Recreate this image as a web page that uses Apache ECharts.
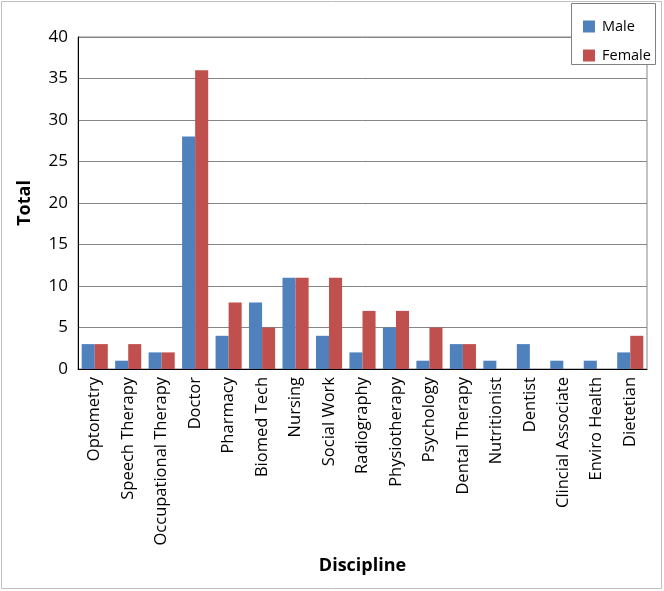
<!DOCTYPE html>
<html><head><meta charset="utf-8">
<script src="https://cdn.jsdelivr.net/npm/echarts@6/dist/echarts.min.js"></script>
<style>html,body{margin:0;padding:0;background:#fff}#c{width:664px;height:591px}</style>
</head><body><div id="c"></div>
<script>
const categories = ["Optometry","Speech Therapy","Occupational Therapy","Doctor","Pharmacy","Biomed Tech","Nursing","Social Work","Radiography","Physiotherapy","Psychology","Dental Therapy","Nutritionist","Dentist","Clincial Associate","Enviro Health","Dietetian"];
const male =   [3,1,2,28,4,8,11,4,2,5,1,3,1,3,1,1,2];
const female = [3,3,2,36,8,5,11,11,7,7,5,3,0,0,0,0,4];
const yTicks = {min:0, max:40, interval:5};

const FONT = "Open Sans";
const chart = echarts.init(document.getElementById('c'), null, {renderer:'canvas'});
chart.setOption({
  animation:false,
  textStyle:{fontFamily:FONT},
  graphic:[
    {type:'rect', shape:{x:1.5,y:1.5,width:660,height:587}, style:{fill:null, stroke:'#bfbfbf', lineWidth:1}, z:-1},
    {type:'rect', shape:{x:571.5,y:3.5,width:84,height:61}, style:{fill:'#fff', stroke:'#808080', lineWidth:1}, z:5}
  ],
  legend:{
    orient:'vertical', left:578, top:14, itemWidth:12, itemHeight:12, itemGap:14,
    icon:'rect', z:10,
    textStyle:{fontFamily:FONT, fontSize:14.5, color:'#000', padding:[0,0,0,2]},
    data:['Male','Female']
  },
  grid:{left:78, right:17, top:37, bottom:222, containLabel:false, show:true, borderColor:'#868686', borderWidth:1, backgroundColor:'transparent'},
  xAxis:{
    type:'category', data:categories,
    name:'Discipline', nameLocation:'middle', nameGap:188,
    nameTextStyle:{fontFamily:FONT, fontSize:18, fontWeight:'bold', color:'#000'},
    axisLine:{lineStyle:{color:'#000', width:1}},
    axisTick:{show:false},
    axisLabel:{rotate:90, interval:0, fontSize:16.5, color:'#000', margin:8}
  },
  yAxis:{
    type:'value', min:yTicks.min, max:yTicks.max, interval:yTicks.interval,
    name:'Total', nameLocation:'middle', nameGap:44,
    nameTextStyle:{fontFamily:FONT, fontSize:18, fontWeight:'bold', color:'#000'},
    axisLine:{show:true, lineStyle:{color:'#000'}},
    axisTick:{show:false},
    axisLabel:{fontSize:17, color:'#000', margin:10},
    splitLine:{lineStyle:{color:'#868686', width:1}}
  },
  series:[
    {name:'Male', type:'bar', data:male, barGap:'0%', barCategoryGap:'22%', itemStyle:{color:'#4F81BD'}},
    {name:'Female', type:'bar', data:female, barGap:'0%', barCategoryGap:'22%', itemStyle:{color:'#C0504D'}}
  ]
});
</script></body></html>
